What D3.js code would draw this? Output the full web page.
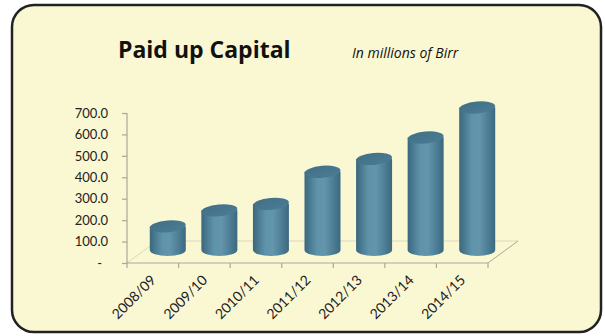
<!DOCTYPE html>
<html>
<head>
<meta charset="utf-8">
<script src="https://cdn.jsdelivr.net/npm/d3@7"></script>
<style>
  html, body { margin: 0; padding: 0; background: #fff; }
  svg { display: block; font-family: Lato, "Open Sans", sans-serif; }
</style>
</head>
<body>
<div id="chart"></div>
<script>
const categories = ["2008/09", "2009/10", "2010/11", "2011/12", "2012/13", "2013/14", "2014/15"];
const capital = [110, 185, 215, 365, 425, 525, 665];
const yTicks = [0, 100, 200, 300, 400, 500, 600, 700];

const WIDTH = 605;
const HEIGHT = 336;
// oblique depth of the 3D floor
const DX = 30;
const DY = -22;

const svg = d3.select("#chart")
    .append("svg")
    .attr("width", WIDTH)
    .attr("height", HEIGHT);

const defs = svg.append("defs");

const sideGrad = defs.append("linearGradient")
    .attr("id", "cylSide")
    .attr("x1", "0%").attr("x2", "100%")
    .attr("y1", "0%").attr("y2", "0%");
sideGrad.append("stop").attr("offset", "0%").attr("stop-color", "#3a687e");
sideGrad.append("stop").attr("offset", "35%").attr("stop-color", "#5f93aa");
sideGrad.append("stop").attr("offset", "55%").attr("stop-color", "#6396ad");
sideGrad.append("stop").attr("offset", "100%").attr("stop-color", "#3b6a80");

const topGrad = defs.append("linearGradient")
    .attr("id", "cylTop")
    .attr("x1", "0%").attr("x2", "100%")
    .attr("y1", "0%").attr("y2", "100%");
topGrad.append("stop").attr("offset", "0%").attr("stop-color", "#416f85");
topGrad.append("stop").attr("offset", "100%").attr("stop-color", "#4b7d94");

// frame
svg.append("rect")
    .attr("x", 12).attr("y", 5)
    .attr("width", 589).attr("height", 327)
    .attr("rx", 22)
    .attr("fill", "#faf7d3")
    .attr("stroke", "#222")
    .attr("stroke-width", 2.5);

// titles
svg.append("text")
    .attr("x", 118).attr("y", 58)
    .attr("font-family", "'Open Sans', sans-serif")
    .attr("font-size", 23)
    .attr("font-weight", "bold")
    .attr("fill", "#111")
    .text("Paid up Capital");

svg.append("text")
    .attr("x", 352).attr("y", 58)
    .attr("font-family", "'Open Sans', sans-serif")
    .attr("font-size", 14)
    .attr("font-style", "italic")
    .attr("fill", "#111")
    .text("In millions of Birr");

const x = d3.scaleBand()
    .domain(categories)
    .range([127, 488]);

const y = d3.scaleLinear()
    .domain([0, 700])
    .range([263, 113]);

const y0 = y(0);

// floor
const g = svg.append("g");
g.append("path")
    .attr("d", `M${x.range()[0]},${y0} L${x.range()[0] + DX},${y0 + DY} L${x.range()[1] + DX},${y0 + DY}`)
    .attr("fill", "none")
    .attr("stroke", "#dcd9bd")
    .attr("stroke-width", 1);
g.append("path")
    .attr("d", `M${x.range()[1]},${y0} L${x.range()[1] + DX},${y0 + DY}`)
    .attr("fill", "none")
    .attr("stroke", "#a9a89a")
    .attr("stroke-width", 1);

// axes
const yAxis = d3.axisLeft(y)
    .tickValues(yTicks)
    .tickSize(5)
    .tickPadding(14)
    .tickFormat(d => d === 0 ? "-" : d3.format(".1f")(d));

const yg = svg.append("g")
    .attr("transform", `translate(${x.range()[0]},0)`)
    .call(yAxis);

const xAxis = d3.axisBottom(x)
    .tickSize(5)
    .tickFormat("");

const xg = svg.append("g")
    .attr("transform", `translate(0,${y0})`)
    .call(xAxis);

// ticks at band edges instead of centres
xg.selectAll(".tick").remove();
xg.selectAll(".edge")
    .data(categories.map(c => x(c)).concat([x.range()[1]]))
    .join("line")
    .attr("class", "edge")
    .attr("x1", d => d).attr("x2", d => d)
    .attr("y1", 0).attr("y2", 5);

[yg, xg].forEach(a => {
    a.select(".domain").attr("stroke", "#a9a89a").attr("stroke-width", 1.2);
    a.selectAll("line").attr("stroke", "#a9a89a").attr("stroke-width", 1.2);
});
xg.select(".domain").attr("d", `M${x.range()[0]},0H${x.range()[1]}`);
yg.select(".domain").attr("d", `M0,${y0}V${y(700)}`);

yg.selectAll("text")
    .attr("font-size", 13)
    .attr("font-family", "Lato, sans-serif")
    .attr("fill", "#222")
    .attr("dx", d => d === 0 ? -6 : 0);

svg.append("g")
    .selectAll("text")
    .data(categories)
    .join("text")
    .attr("transform", d => `translate(${x(d) + x.bandwidth() / 2 + 4},${y0 + 18}) rotate(-45)`)
    .attr("text-anchor", "end")
    .attr("font-size", 14)
    .attr("fill", "#222")
    .text(d => d);

// cylinders
const rx = 18;
const ry = 6;
const bars = svg.append("g")
    .selectAll("g")
    .data(categories.map((c, i) => ({cat: c, value: capital[i]})))
    .join("g");

bars.append("path")
    .attr("d", d => {
        const cx = x(d.cat) + x.bandwidth() / 2 + DX / 2;
        const yb = y0 + DY / 2 - 2;
        const yt = y(d.value) + DY / 2 - 2;
        return `M${cx - rx},${yt} L${cx - rx},${yb} A${rx},${ry} 0 0 0 ${cx + rx},${yb} L${cx + rx},${yt} Z`;
    })
    .attr("fill", "url(#cylSide)");

bars.append("ellipse")
    .attr("cx", d => x(d.cat) + x.bandwidth() / 2 + DX / 2)
    .attr("cy", d => y(d.value) + DY / 2 - 2)
    .attr("rx", rx)
    .attr("ry", ry)
    .attr("transform", d => `rotate(-5,${x(d.cat) + x.bandwidth() / 2 + DX / 2},${y(d.value) + DY / 2 - 2})`)
    .attr("fill", "url(#cylTop)");
</script>
</body>
</html>
